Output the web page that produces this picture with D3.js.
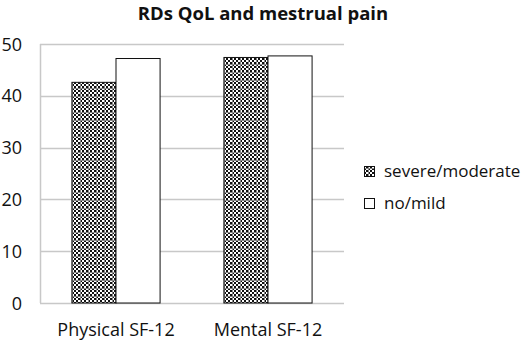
<!DOCTYPE html>
<html><head><meta charset="utf-8">
<script src="https://cdn.jsdelivr.net/npm/d3@7"></script>
<style>body{margin:0;background:#fff}svg{display:block}</style>
</head><body>
<svg id="c" width="526" height="341"></svg>
<script>
const categories = ["Physical SF-12", "Mental SF-12"];
const seriesNames = ["severe/moderate", "no/mild"];
const severeModerate = [42.6, 47.4];
const noMild = [47.2, 47.7];
const yTicks = [0, 10, 20, 30, 40, 50];
const title = "RDs QoL and mestrual pain";

const svg = d3.select("#c");
const font = "'Open Sans', sans-serif";
const m = {left: 40, right: 344, top: 44, bottom: 303};

const defs = svg.append("defs");
const pat = defs.append("pattern").attr("id","chk").attr("patternUnits","userSpaceOnUse")
  .attr("width",8).attr("height",8);
pat.append("rect").attr("width",8).attr("height",8).attr("fill","#fff");
for (let i=0;i<4;i++) for (let j=0;j<4;j++) if ((i+j)%2===0)
  pat.append("rect").attr("x",i*2).attr("y",j*2).attr("width",2).attr("height",2).attr("fill","#111");
pat.append("rect").attr("x",0).attr("y",0).attr("width",8).attr("height",1).attr("fill","#888");
pat.append("rect").attr("x",0).attr("y",0).attr("width",1).attr("height",8).attr("fill","#888");

const x0 = d3.scaleBand().domain(categories).range([m.left, m.right]).paddingInner(0.42).paddingOuter(0.21);
const x1 = d3.scaleBand().domain(seriesNames).range([0, x0.bandwidth()]);
const y = d3.scaleLinear().domain([0, 50]).range([m.bottom, m.top]);

// gridlines
svg.append("g").selectAll("line").data(yTicks).join("line")
  .attr("x1", m.left).attr("x2", m.right)
  .attr("y1", d=>Math.round(y(d))+0.5).attr("y2", d=>Math.round(y(d))+0.5)
  .attr("stroke", "#c8c8c8").attr("stroke-width", 1.5);
svg.append("line").attr("x1", m.left+0.5).attr("x2", m.left+0.5)
  .attr("y1", m.top).attr("y2", m.bottom).attr("stroke","#c8c8c8").attr("stroke-width",1.5);

// y tick labels
svg.append("g").selectAll("text").data(yTicks).join("text")
  .attr("x", 22).attr("y", d=>y(d)+6.5).attr("text-anchor","end")
  .attr("font-family", font).attr("font-size", 18).attr("fill","#111").text(d=>d);

const fills = ["url(#chk)", "#fff"];
const data = [severeModerate, noMild];
categories.forEach((c, ci) => {
  seriesNames.forEach((s, si) => {
    const v = data[si][ci];
    svg.append("rect")
      .attr("x", x0(c) + x1(s)).attr("y", y(v))
      .attr("width", x1.bandwidth()).attr("height", y(0) - y(v))
      .attr("fill", fills[si]).attr("stroke", "#111").attr("stroke-width", 1);
  });
});

// x labels
svg.append("g").selectAll("text").data(categories).join("text")
  .attr("x", d=>x0(d)+x0.bandwidth()/2).attr("y", 336).attr("text-anchor","middle")
  .attr("font-family", font).attr("font-size", 18).attr("fill","#111").text(d=>d);

// title
svg.append("text").attr("x", 263).attr("y", 20).attr("text-anchor","middle")
  .attr("font-family", font).attr("font-size", 18.5).attr("font-weight","bold").attr("fill","#111").text(title);

// legend
const lg = svg.append("g");
seriesNames.forEach((s, i) => {
  const yy = 166 + i*32;
  lg.append("rect").attr("x", 364.5).attr("y", yy+0.5).attr("width", 10).attr("height", 10)
    .attr("fill", fills[i]).attr("stroke", "#111").attr("stroke-width", 1);
  lg.append("text").attr("x", 384).attr("y", yy+11)
    .attr("font-family", font).attr("font-size", 17).attr("fill","#111").text(s);
});
</script>
</body></html>
